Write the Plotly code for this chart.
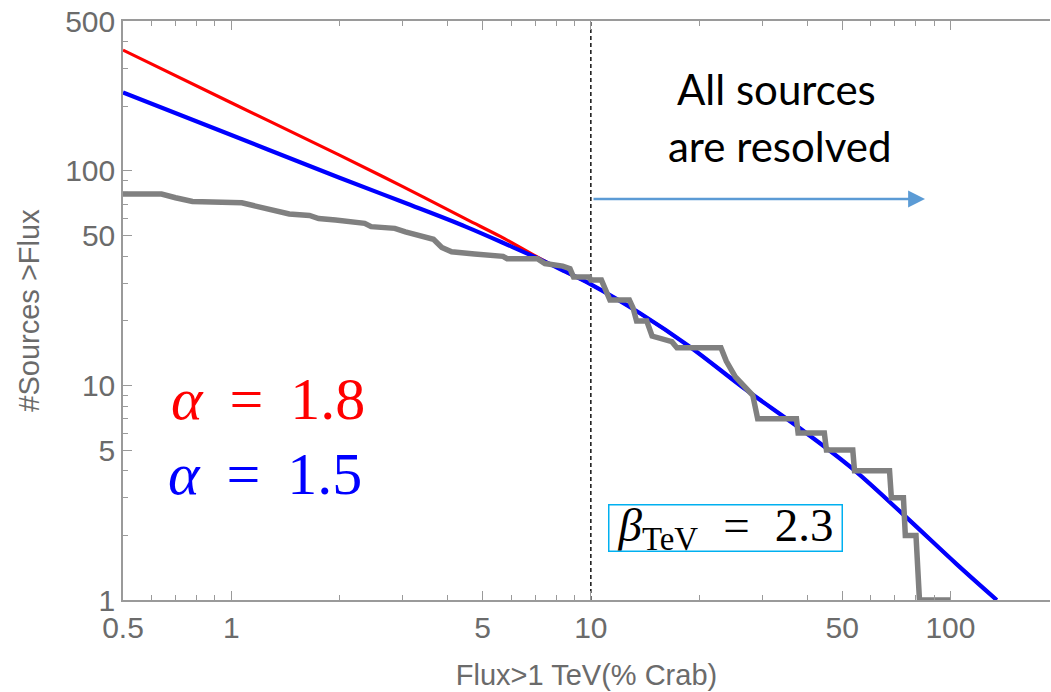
import math
import plotly.graph_objects as go

# ---- data ----
flux_red = [0.5, 1, 2, 3, 4.5, 5.6, 6.6, 7.6, 8.5, 10, 13.7, 18.8, 26.9, 37.7, 52.9, 74, 104, 134.5]
n_red = [366, 208, 118.5, 84.5, 59.6, 49.5, 42.5, 37.3, 33.9, 29.6, 21.7, 15.2, 9.6, 6.4, 4.15, 2.5, 1.47, 1.0]

flux_blue = [0.5, 1, 2, 3, 4.5, 6, 7.2, 8.5, 10, 13.7, 18.8, 26.9, 37.7, 52.9, 74, 104, 134.5]
n_blue = [232, 147, 93, 71.6, 54.9, 44.5, 38.8, 33.9, 29.6, 21.7, 15.2, 9.6, 6.4, 4.15, 2.5, 1.47, 1.0]

flux_cat = [0.50, 0.64, 0.70, 0.78, 1.07, 1.20, 1.34, 1.45, 1.65, 1.75, 1.95, 2.10, 2.35, 2.45,
            2.85, 3.05, 3.35, 3.65, 3.85, 4.10, 4.75, 5.70, 5.85, 7.10, 7.45, 8.35, 8.75, 8.95,
            9.90, 10.0, 10.7, 10.95, 11.3, 12.8, 13.1, 13.4, 14.3, 14.8, 16.8, 17.35, 23.0, 23.8,
            25.2, 28.2, 29.1, 37.3, 37.7, 44.6, 45.2, 53.5, 54.1, 67.7, 68.5, 74.0, 74.9, 80.2,
            82.0, 100]
n_cat = [78, 78, 75, 72, 71, 68, 65, 63, 62, 60, 59, 58, 57, 55,
         54, 52, 50, 48, 44, 42, 41, 40, 39, 39, 37, 36, 35, 32,
         32, 31, 31, 28, 25, 25, 23, 20, 20, 17, 16, 15, 15, 13,
         11, 9, 7, 7, 6, 6, 5, 5, 4, 4, 3, 3, 2, 2,
         1, 1]

resolved_flux = 10
x_major = [0.5, 1, 5, 10, 50, 100]
x_minor = [0.6, 0.7, 0.8, 0.9, 2, 3, 4, 6, 7, 8, 9, 20, 30, 40, 60, 70, 80, 90, 200]
y_major = [1, 5, 10, 50, 100, 500]
y_minor = [2, 3, 4, 6, 7, 8, 9, 20, 30, 40, 60, 70, 80, 90, 200, 300, 400]

# ---- figure geometry ----
W, H = 1051, 692
ML, MR, MT, MB = 123, 1, 21, 92
PW, PH = W - ML - MR, H - MT - MB
x_dec = 359.6  # px per decade
x_lo = math.log10(0.5)
x_hi = x_lo + PW / x_dec


def px(xp):
    return (xp - ML) / PW


def py(yp):
    return (MT + PH - yp) / PH


AX = '#9a9a9a'
TXT = '#6b6b6b'
SANS = 'Liberation Sans, Arial, sans-serif'
SERIF = 'Liberation Serif, Times New Roman, serif'

fig = go.Figure()
fig.add_trace(go.Scatter(x=[resolved_flux, resolved_flux], y=[y_major[0], y_major[-1]], mode='lines',
                         line=dict(color='black', width=1.4, dash='4px,3px'), hoverinfo='skip'))
fig.add_trace(go.Scatter(x=flux_red, y=n_red, mode='lines', line=dict(color='#ff0000', width=3.2, shape='spline', smoothing=1)))
fig.add_trace(go.Scatter(x=flux_blue, y=n_blue, mode='lines', line=dict(color='#0000ff', width=4.2, shape='spline', smoothing=1)))
fig.add_trace(go.Scatter(x=flux_cat, y=n_cat, mode='lines', line=dict(color='#808080', width=5.5)))

fig.update_xaxes(type='log', range=[x_lo, x_hi], showline=True, linecolor=AX, linewidth=1.5, automargin=False,
                 mirror='ticks', ticks='inside', ticklen=9, tickwidth=1.2, tickcolor=AX,
                 tickmode='array', tickvals=x_major, ticktext=[str(v) for v in x_major],
                 minor=dict(tickmode='array', tickvals=x_minor, ticks='inside', ticklen=5, tickwidth=1, tickcolor=AX, showgrid=False),
                 showgrid=False, zeroline=False, tickfont=dict(family=SANS, size=30, color=TXT),
                 title=dict(text='Flux>1 TeV(% Crab)', font=dict(family=SANS, size=29, color=TXT), standoff=22))
fig.update_yaxes(type='log', range=[0, math.log10(500)], showline=True, linecolor=AX, linewidth=1.5, automargin=False,
                 mirror=False, ticks='inside', ticklen=9, tickwidth=1.2, tickcolor=AX,
                 tickmode='array', tickvals=y_major, ticktext=[str(v) for v in y_major],
                 minor=dict(tickmode='array', tickvals=y_minor, ticks='inside', ticklen=5, tickwidth=1, tickcolor=AX, showgrid=False),
                 showgrid=False, zeroline=False, tickfont=dict(family=SANS, size=30, color=TXT),
                 title=dict(text='#Sources >Flux', font=dict(family=SANS, size=29, color=TXT), standoff=17))

nb = '\u00a0'
gap = nb + '\u2009'
gap2 = nb + '\u2009\u200a'
ann = [
    dict(x=px(268), y=py(399), text='<i>α</i>' + gap + '=' + gap + '1.8', font=dict(family=SERIF, size=60, color='#ff0000')),
    dict(x=px(265), y=py(474), text='<i>α</i>' + gap + '=' + gap + '1.5', font=dict(family=SERIF, size=60, color='#0000ff')),
    dict(x=px(725.5), y=py(528), text='<i>β</i><sub>TeV</sub>' + gap2 + '=' + gap2 + '2.3', font=dict(family=SERIF, size=47, color='black'),
         bordercolor='#00b0f0', borderwidth=1.5, borderpad=0, width=232, height=45, bgcolor='white'),
    dict(x=px(776), y=py(89), text='All sources', font=dict(family='Lato, Open Sans, sans-serif', size=42, color='black')),
    dict(x=px(780), y=py(146), text='are resolved', font=dict(family='Lato, Open Sans, sans-serif', size=42, color='black')),
    dict(x=px(925), y=py(199), text='', showarrow=True, ax=592 - 925, ay=0, arrowhead=2, arrowsize=1.3,
         arrowwidth=2.6, arrowcolor='#5b9bd5', standoff=0),
]
for a in ann:
    a.setdefault('showarrow', False)
    a.update(xref='paper', yref='paper', xanchor='center', yanchor='middle')
    fig.add_annotation(**a)

fig.update_layout(width=W, height=H, margin=dict(l=ML, r=MR, t=MT, b=MB), showlegend=False,
                  plot_bgcolor='white', paper_bgcolor='white')
fig.write_html('out.html', config={'displayModeBar': False},
               post_script="document.body.style.margin='0';document.body.style.padding='0';")
